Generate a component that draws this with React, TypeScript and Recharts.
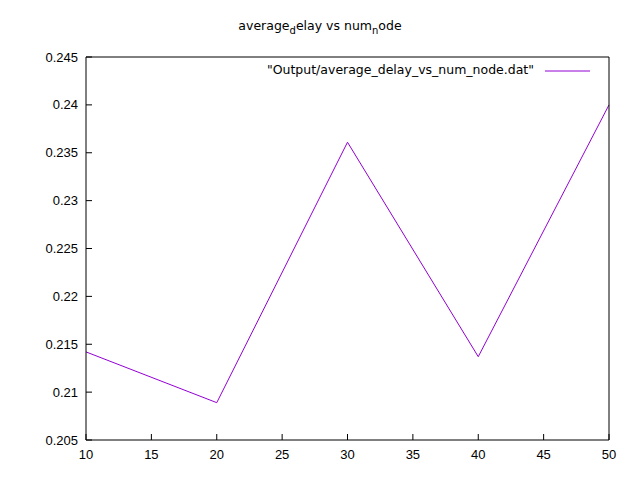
import { LineChart, Line, XAxis, YAxis } from 'recharts'

const numNode = [10, 20, 30, 40, 50]
const averageDelay = [0.2142, 0.2089, 0.2361, 0.2137, 0.24]
const xTicks = [10, 15, 20, 25, 30, 35, 40, 45, 50]
const yTicks = [0.205, 0.21, 0.215, 0.22, 0.225, 0.23, 0.235, 0.24, 0.245]

const data = numNode.map((n, i) => ({ n, delay: averageDelay[i] }))

const FONT = '"Liberation Sans", Arial, sans-serif'
const TEXT_FONT = '"DejaVu Sans", sans-serif'
const tickStyle = { fontSize: 13, fill: '#000', fontFamily: FONT }

export default function App() {
  return (
    <div style={{ position: 'absolute', left: 0, top: 0, width: 640, height: 480, background: '#fff', fontFamily: FONT }}>
      <div style={{ position: 'absolute', top: 18, left: 0, width: 640, textAlign: 'center', fontSize: 12.5, fontFamily: TEXT_FONT }}>
        average<sub style={{ fontSize: 10 }}>d</sub>elay vs num<sub style={{ fontSize: 10 }}>n</sub>ode
      </div>
      <div style={{ position: 'absolute', top: 62, left: 150, width: 384, textAlign: 'right', fontSize: 12.5, fontFamily: TEXT_FONT }}>
        "Output/average_delay_vs_num_node.dat"
      </div>
      <svg style={{ position: 'absolute', top: 0, left: 0 }} width={640} height={480}>
        <line x1={545} x2={590} y1={71} y2={71} stroke="#9400d3" strokeWidth={1} />
      </svg>
      <div style={{ position: 'absolute', top: 0, left: 0 }}>
        <LineChart width={640} height={480} data={data} margin={{ top: 27, right: 1, bottom: 10, left: 6 }}>
          <XAxis dataKey="n" type="number" domain={[10, 50]} ticks={xTicks} tickSize={-6} tickMargin={16}
            stroke="#000" tick={tickStyle} height={30} />
          <XAxis xAxisId="top" orientation="top" dataKey="n" type="number" domain={[10, 50]} ticks={xTicks}
            tickSize={-6} tick={false} stroke="#000" height={30} />
          <YAxis type="number" domain={[0.205, 0.245]} ticks={yTicks} tickSize={-6} tickMargin={14}
            stroke="#000" tick={tickStyle} width={80} />
          <YAxis yAxisId="right" orientation="right" type="number" domain={[0.205, 0.245]} ticks={yTicks}
            tickSize={-6} tick={false} stroke="#000" width={30} />
          <Line dataKey="delay" stroke="#9400d3" strokeWidth={1} dot={false} isAnimationActive={false} />
        </LineChart>
      </div>
    </div>
  )
}
